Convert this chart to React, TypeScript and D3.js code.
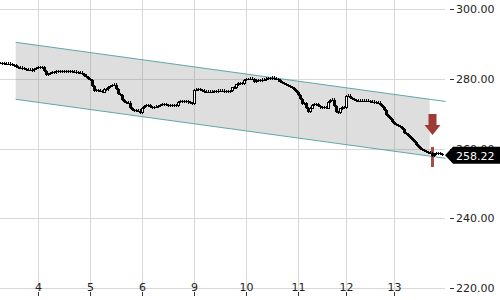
import React from "react";
import * as d3 from "d3";

// 15-minute closes, one per bar
const closes: number[] = [
  284.52, 284.45, 284.37, 284.23, 284.3, 284.09, 283.94, 283.8, 283.37, 283.08,
  283.15, 282.94, 282.8, 282.65, 282.51, 282.55, 282.45, 282.8, 283.08, 283.37,
  283.3, 283.37, 282.22, 281.08, 281.36, 281.65, 281.94, 281.9, 282.08, 281.94,
  282.22, 282.15, 281.94, 282.08, 282.22, 282.18, 281.94, 281.98, 281.9, 281.65,
  281.79, 281.36, 280.93, 280.5, 279.93, 279.64, 277.92, 276.49, 276.77, 276.63,
  276.49, 276.2, 277.06, 277.0, 277.63, 277.92, 278.21, 278.35, 277.06, 275.63,
  275.34, 273.91, 273.33, 273.05, 273.1, 271.61, 271.04, 270.9, 270.75, 270.8,
  270.32, 271.61, 272.19, 272.47, 272.4, 271.9, 271.61, 271.9, 272.04, 272.19,
  272.47, 272.62, 272.76, 272.47, 272.33, 272.38, 272.47, 272.33, 272.3, 273.33,
  273.62, 273.55, 273.48, 273.62, 273.19, 273.05, 272.9, 276.77, 276.85, 276.92,
  276.77, 276.63, 276.34, 276.2, 276.25, 276.2, 276.34, 276.49, 276.45, 276.63,
  276.49, 276.52, 276.34, 276.49, 276.34, 276.49, 277.35, 277.49, 278.21, 278.78,
  278.72, 278.64, 279.64, 279.93, 279.9, 280.07, 279.93, 279.07, 279.5, 279.64,
  279.6, 279.78, 279.75, 280.07, 280.22, 280.18, 280.25, 280.07, 279.93, 279.5,
  279.07, 278.78, 278.5, 278.21, 277.92, 277.63, 277.35, 276.77, 276.2, 275.34,
  274.19, 272.76, 273.05, 271.61, 270.47, 271.61, 272.47, 272.76, 272.7, 272.19,
  271.76, 271.61, 271.76, 271.61, 273.33, 273.91, 274.05, 272.19, 270.47, 270.32,
  271.33, 271.9, 271.85, 275.05, 275.1, 274.48, 274.19, 273.91, 273.76, 273.62,
  273.66, 273.76, 273.62, 273.76, 273.62, 273.33, 273.38, 273.19, 273.05, 273.1,
  272.47, 271.9, 271.04, 269.61, 269.03, 268.46, 267.6, 267.03, 266.74, 266.45,
  266.17, 265.59, 264.45, 264.16, 263.59, 263.01, 262.44, 261.87, 261.01, 260.43,
  259.86, 259.57, 259.28, 259.0, 258.85, 258.71, 257.85, 258.42, 258.71, 258.57,
  258.42, 258.22,
];

const dayTickIndex: number[] = [19, 45, 71, 97, 123, 149, 173, 197];
const dayLabels: string[] = ["4", "5", "6", "9", "10", "11", "12", "13"];
const priceTicks: number[] = [220, 240, 260, 280, 300];

// regression channel: [barIndex, value]
const channelUpper: [number, number][] = [[7.6, 290.45], [222.6, 273.48]];
const channelLower: [number, number][] = [[7.6, 274.11], [222.6, 257.19]];
const channelFillEnd = 214.6;
const signalBar = 216;

const W = 500;
const H = 300;

export default function App() {
  const x = d3.scaleLinear().domain([0, 221]).range([0.5, 442.5]);
  const y = d3.scaleLinear().domain([220, 300]).range([288, 9]);

  const interp = (pts: [number, number][], i: number) => {
    const [a, b] = pts;
    return a[1] + ((b[1] - a[1]) * (i - a[0])) / (b[0] - a[0]);
  };
  const fillPts: [number, number][] = [
    [x(channelUpper[0][0]), y(interp(channelUpper, channelUpper[0][0]))],
    [x(channelFillEnd), y(interp(channelUpper, channelFillEnd))],
    [x(channelFillEnd), y(interp(channelLower, channelFillEnd))],
    [x(channelLower[0][0]), y(interp(channelLower, channelLower[0][0]))],
  ];
  const linePath = d3
    .line<[number, number]>()
    .x((d) => x(d[0]))
    .y((d) => y(d[1]));

  const last = closes[closes.length - 1];
  const ly = y(last);
  const font = "'DejaVu Sans', sans-serif";
  const red = "#9e3b34";

  const sx = x(signalBar);
  const sy = y(closes[signalBar]);
  const tip = sy - 21;

  return (
    <svg
      width={W}
      height={H}
      style={{ position: "absolute", left: 0, top: 0, background: "#fff" }}
    >
      {/* grid */}
      {priceTicks.map((t) => (
        <line key={"h" + t} x1={0} x2={445} y1={Math.round(y(t)) + 0.5} y2={Math.round(y(t)) + 0.5} stroke="#d8d8d8" />
      ))}
      {dayTickIndex.map((t, k) => (
        <line key={"v" + k} x1={x(t)} x2={x(t)} y1={0} y2={291} stroke="#d8d8d8" />
      ))}

      {/* channel */}
      <polygon points={fillPts.map((p) => p.join(",")).join(" ")} fill="rgba(128,128,128,0.26)" />
      <path d={linePath(channelUpper) || ""} stroke="#5fa6ac" strokeWidth={1} fill="none" />
      <path d={linePath(channelLower) || ""} stroke="#5fa6ac" strokeWidth={1} fill="none" />

      {/* signal bar */}
      <rect x={sx - 1.5} y={sy - 9} width={3} height={20} fill={red} opacity={0.9} />

      {/* candles */}
      <g shapeRendering="crispEdges">
        {closes.map((c, i) => {
          const o = i === 0 ? c : closes[i - 1];
          const cx = x(i);
          const hi = Math.max(o, c) + 0.4;
          const lo = Math.min(o, c) - 0.4;
          const top = y(Math.max(o, c));
          const bot = y(Math.min(o, c));
          const h = Math.max(1, bot - top);
          const up = c > o && bot - top > 2.5;
          return (
            <g key={i}>
              <line x1={cx} x2={cx} y1={y(hi)} y2={y(lo)} stroke="#000" />
              {up ? (
                <rect x={cx - 1} y={top} width={2} height={h} fill="#fff" stroke="#000" />
              ) : (
                <rect x={cx - 1.5} y={top} width={3} height={h} fill="#000" />
              )}
            </g>
          );
        })}
      </g>

      {/* arrow */}
      <path
        d={`M${sx - 4},${tip - 21} L${sx + 4},${tip - 21} L${sx + 4},${tip - 10} L${sx + 8},${tip - 10} L${sx},${tip} L${sx - 8},${tip - 10} L${sx - 4},${tip - 10} Z`}
        fill={red}
      />

      {/* x axis */}
      {dayTickIndex.map((t, k) => (
        <g key={"xt" + k}>
          <line x1={x(t)} x2={x(t)} y1={292} y2={296} stroke="#333" />
          <text x={x(t)} y={291} textAnchor="middle" fontFamily={font} fontSize={11} fill="#222">
            {dayLabels[k]}
          </text>
        </g>
      ))}

      {/* y axis */}
      {priceTicks.map((t) => (
        <g key={"yt" + t}>
          <line x1={450} x2={454} y1={Math.round(y(t)) + 0.5} y2={Math.round(y(t)) + 0.5} stroke="#333" />
          <text x={456} y={y(t) + 4} fontFamily={font} fontSize={11} fill="#222">
            {d3.format(".2f")(t)}
          </text>
        </g>
      ))}

      {/* last price label */}
      <polygon
        points={`445,${ly + 0.5} 453,${ly - 8} 500,${ly - 8} 500,${ly + 9} 453,${ly + 9}`}
        fill="#000"
      />
      <text x={456} y={ly + 5} fontFamily={font} fontSize={11} fill="#fff">
        {d3.format(".2f")(last)}
      </text>
    </svg>
  );
}
